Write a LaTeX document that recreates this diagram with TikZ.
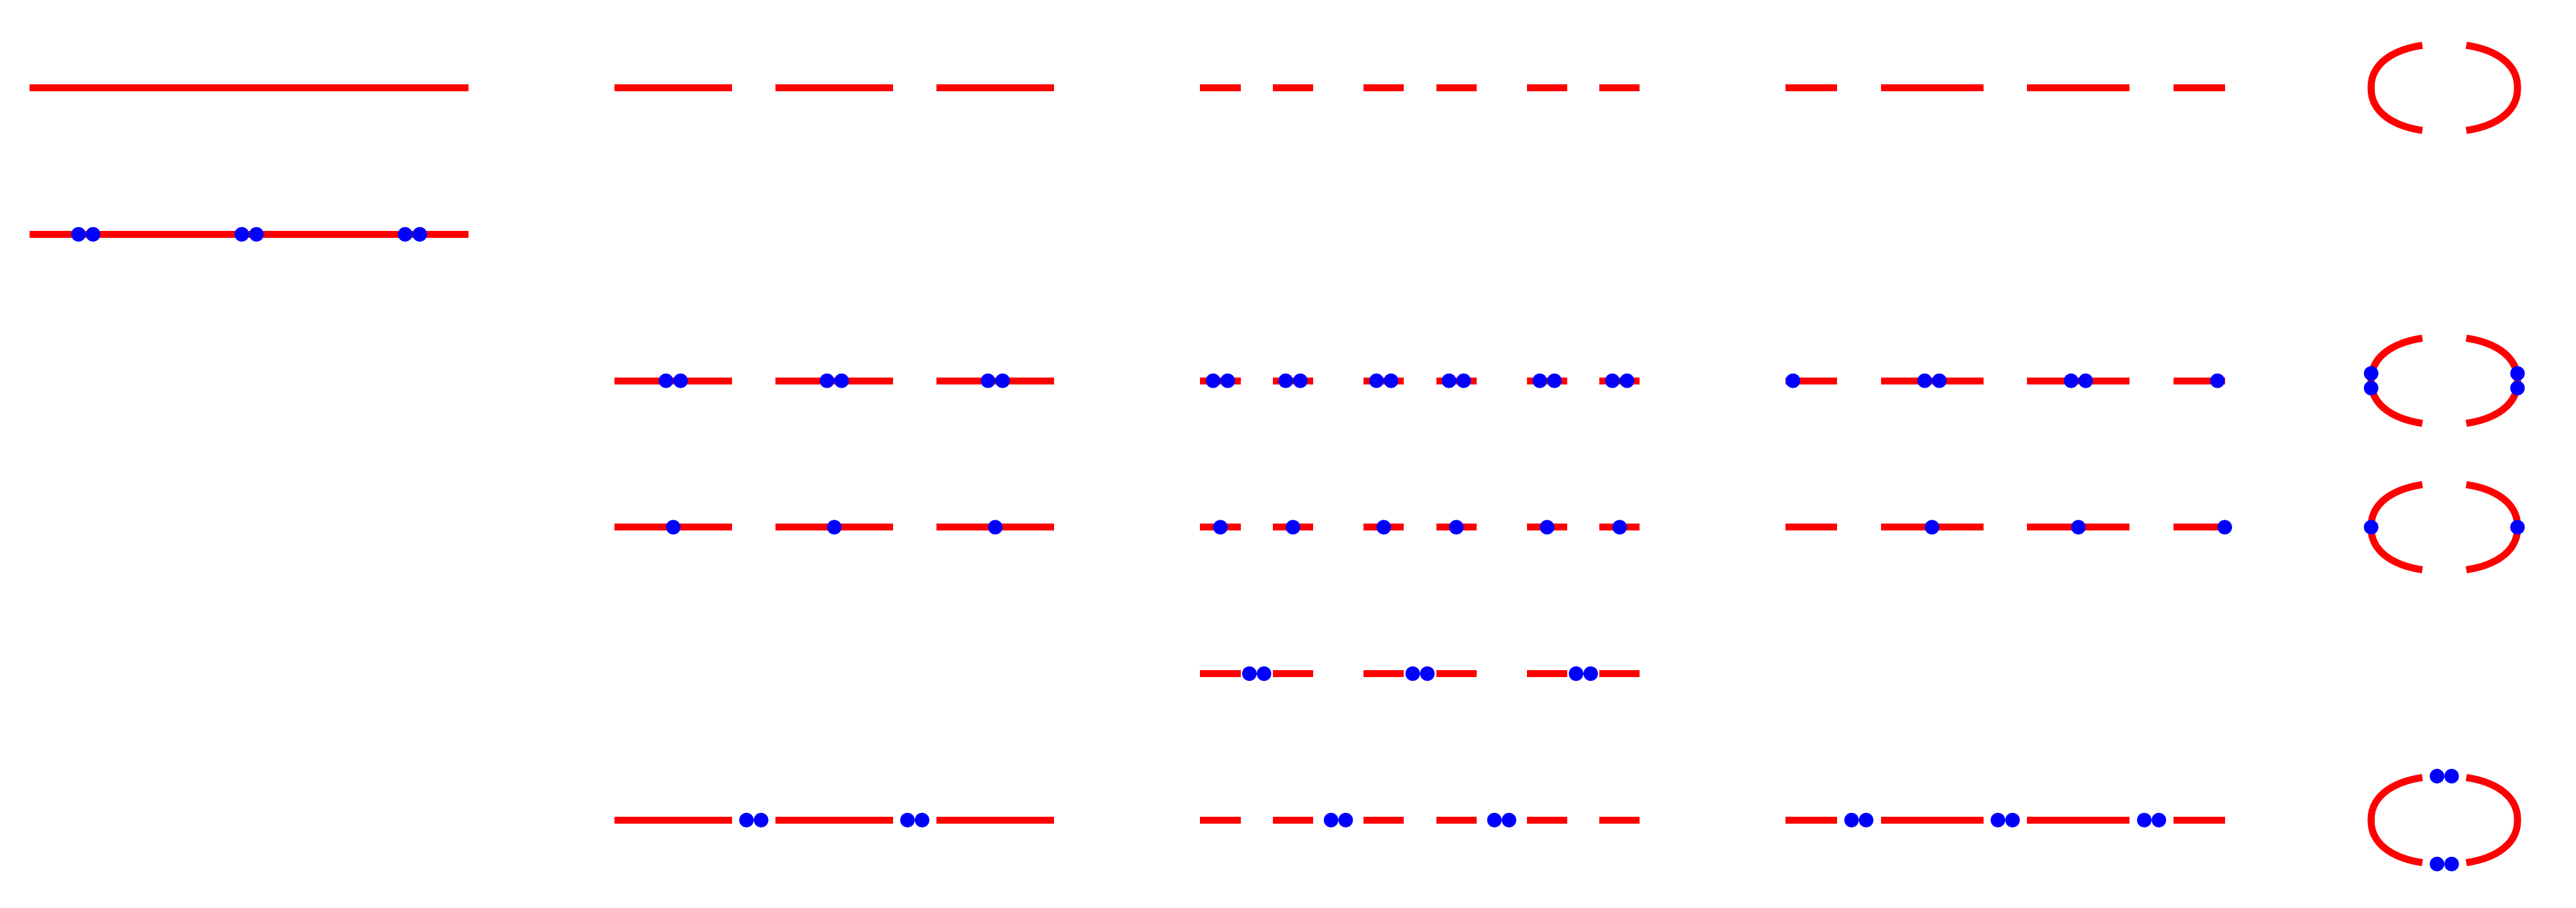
\documentclass[tikz,border=0pt]{standalone}
\begin{document}
\begin{tikzpicture}[line join=round,
	chain/.style={red,line width=0.12cm},
	halfdash/.style={chain,dash pattern=on 2cm off 0.75cm},
	quarterdash/.style={chain,dash pattern=on 0.69cm off 0.55cm on 0.69cm off 0.86cm},
	shiftdash/.style={chain,dash pattern=on 1.75cm off 0.75cm,dash phase=0.875cm},
	dimer/.style={fill=blue},
	declare function={rx=1.25; ry=0.75; dr=0.125; cx=41.75;
		sx(\t)=rx*sign(cos(\t))*abs(cos(\t))^0.9;
		sy(\t)=ry*sign(sin(\t))*abs(sin(\t))^0.9;}]
	\useasboundingbox (0,0) rectangle (44,-15.5);
	% column 1
	\draw[chain] (0.5,-1.5) -- (8,-1.5);
	\draw[chain] (0.5,-4) -- (8,-4);
	\foreach \x in {1.465,4.255,7.045}
		\fill[dimer] (\x-dr,-4) circle[radius=dr] (\x+dr,-4) circle[radius=dr];
	% column 2
	\foreach \y in {-1.5,-6.5,-9,-14}
		\draw[halfdash] (10.5,\y) -- (18,\y);
	\foreach \x in {11.5,14.25,17}{
		\fill[dimer] (\x-dr,-6.5) circle[radius=dr] (\x+dr,-6.5) circle[radius=dr];
		\fill[dimer] (\x,-9) circle[radius=dr];}
	\foreach \x in {12.875,15.625}
		\fill[dimer] (\x-dr,-14) circle[radius=dr] (\x+dr,-14) circle[radius=dr];
	% column 3
	\foreach \y in {-1.5,-6.5,-9,-11.5,-14}
		\draw[quarterdash] (20.5,\y) -- (28,\y);
	\foreach \x in {20.845,22.085,23.635,24.875,26.425,27.665}{
		\fill[dimer] (\x-dr,-6.5) circle[radius=dr] (\x+dr,-6.5) circle[radius=dr];
		\fill[dimer] (\x,-9) circle[radius=dr];}
	\foreach \x in {21.465,24.255,27.045}
		\fill[dimer] (\x-dr,-11.5) circle[radius=dr] (\x+dr,-11.5) circle[radius=dr];
	\foreach \x in {22.86,25.65}
		\fill[dimer] (\x-dr,-14) circle[radius=dr] (\x+dr,-14) circle[radius=dr];
	% column 4
	\foreach \y in {-1.5,-6.5,-9,-14}
		\draw[shiftdash] (30.5,\y) -- (38,\y);
	\fill[dimer] (30.625,-6.5) circle[radius=dr] (37.875,-6.5) circle[radius=dr];
	\foreach \x in {33,35.5}
		\fill[dimer] (\x-dr,-6.5) circle[radius=dr] (\x+dr,-6.5) circle[radius=dr];
	\foreach \x in {33,35.5,38}
		\fill[dimer] (\x,-9) circle[radius=dr];
	\foreach \x in {31.75,34.25,36.75}
		\fill[dimer] (\x-dr,-14) circle[radius=dr] (\x+dr,-14) circle[radius=dr];
	% column 5
	\foreach \y in {-1.5,-6.5,-9,-14}{
		\draw[chain] plot[domain=-74.79:74.79,samples=60] ({cx+sx(\x)},{\y+sy(\x)});
		\draw[chain] plot[domain=105.21:254.79,samples=60] ({cx+sx(\x)},{\y+sy(\x)});}
	\foreach \x in {cx-rx,cx+rx}{
		\fill[dimer] (\x,-6.5+dr) circle[radius=dr] (\x,-6.5-dr) circle[radius=dr];
		\fill[dimer] (\x,-9) circle[radius=dr];}
	\foreach \y in {-14+ry,-14-ry}
		\fill[dimer] (cx-dr,\y) circle[radius=dr] (cx+dr,\y) circle[radius=dr];
\end{tikzpicture}
\end{document}
